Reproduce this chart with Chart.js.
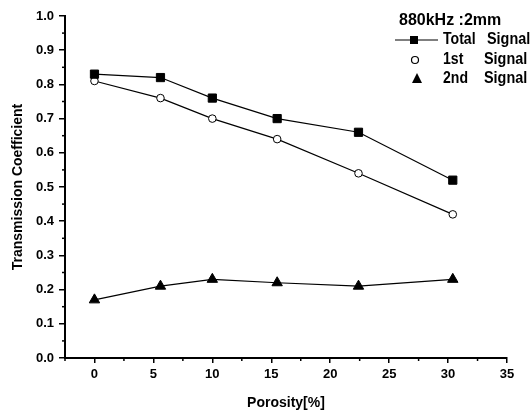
<!DOCTYPE html>
<html>
<head>
<meta charset="utf-8">
<script src="https://cdn.jsdelivr.net/npm/chart.js@4/dist/chart.umd.min.js"></script>
<style>
html,body{margin:0;padding:0;background:#fff;}
#wrap{width:530px;height:412px;}
</style>
</head>
<body>
<div id="wrap"><canvas id="c" width="530" height="412"></canvas></div>
<script>
const porosity = [0, 5.6, 10, 15.5, 22.4, 30.4];
const totalSignal = [0.83, 0.82, 0.76, 0.70, 0.66, 0.52];
const firstSignal = [0.81, 0.76, 0.70, 0.64, 0.54, 0.42];
const secondSignal = [0.17, 0.21, 0.23, 0.22, 0.21, 0.23];
const xTicks = [0, 5, 10, 15, 20, 25, 30, 35];
const yTicks = [0, 0.1, 0.2, 0.3, 0.4, 0.5, 0.6, 0.7, 0.8, 0.9, 1.0];
const legendTitle = '880kHz :2mm';
const legendNames = [['Total', 'Signal'], ['1st', 'Signal'], ['2nd', 'Signal']];

const FONT = '"Liberation Sans", Arial, sans-serif';

function pts(ys){ return porosity.map((x,i)=>({x:x,y:ys[i]})); }

const minorTicks = {
  id:'minorTicks',
  afterDraw(chart){
    const ctx = chart.ctx;
    const xs = chart.scales.x, ys = chart.scales.y;
    ctx.save();
    ctx.strokeStyle = '#000';
    ctx.lineWidth = 1.5;
    for (let v = -2.5; v <= 35.001; v += 5) {
      const px = xs.getPixelForValue(v);
      ctx.beginPath(); ctx.moveTo(px, ys.bottom); ctx.lineTo(px, ys.bottom + 3); ctx.stroke();
    }
    for (let v = 0.05; v < 1; v += 0.1) {
      const py = ys.getPixelForValue(v);
      ctx.beginPath(); ctx.moveTo(xs.left, py); ctx.lineTo(xs.left - 3, py); ctx.stroke();
    }
    ctx.restore();
  }
};

const customLegend = {
  id:'customLegend',
  afterDraw(chart){
    const ctx = chart.ctx;
    ctx.save();
    ctx.fillStyle = '#000';
    ctx.textBaseline = 'middle';
    ctx.font = 'bold 16px ' + FONT;
    ctx.fillText(legendTitle, 399, 21);
    const rows = [40, 60, 79];
    const sigX = [487, 484, 484];
    rows.forEach((y, i) => {
      ctx.save();
      ctx.translate(443, y);
      ctx.scale(0.88, 1);
      ctx.fillText(legendNames[i][0], 0, 0);
      ctx.restore();
      ctx.save();
      ctx.translate(sigX[i], y);
      ctx.scale(0.9, 1);
      ctx.fillText(legendNames[i][1], 0, 0);
      ctx.restore();
    });
    // symbols
    ctx.strokeStyle = '#000';
    ctx.lineWidth = 1.2;
    ctx.beginPath(); ctx.moveTo(395, 40); ctx.lineTo(438, 40); ctx.stroke();
    ctx.fillRect(410, 36, 8, 8);
    ctx.beginPath(); ctx.arc(415, 60, 3.5, 0, Math.PI*2);
    ctx.fillStyle = '#fff'; ctx.fill(); ctx.stroke();
    ctx.fillStyle = '#000';
    ctx.beginPath(); ctx.moveTo(417, 73); ctx.lineTo(422, 83); ctx.lineTo(412, 83); ctx.closePath(); ctx.fill();
    ctx.restore();
  }
};

const common = {borderColor:'#000', borderWidth:1.2, pointBorderColor:'#000', pointBorderWidth:1, tension:0, showLine:true};

new Chart(document.getElementById('c'), {
  type:'scatter',
  data:{
    datasets:[
      Object.assign({label:'Total Signal', data:pts(totalSignal), pointStyle:'rect', pointRadius:5.8, pointBackgroundColor:'#000'}, common),
      Object.assign({label:'1st Signal', data:pts(firstSignal), pointStyle:'circle', pointRadius:3.8, pointBackgroundColor:'#fff'}, common),
      Object.assign({label:'2nd Signal', data:pts(secondSignal), pointStyle:'triangle', pointRadius:6, pointBackgroundColor:'#000'}, common)
    ]
  },
  options:{
    responsive:false,
    animation:false,
    layout:{padding:{top:16, right:23, left:0, bottom:0}},
    plugins:{legend:{display:false}, tooltip:{enabled:false}},
    scales:{
      x:{
        type:'linear', min:-2.5, max:35,
        afterBuildTicks(s){ s.ticks = xTicks.map(v=>({value:v})); },
        afterFit(s){ s.height = 54; },
        grid:{drawOnChartArea:false, drawTicks:true, tickLength:5, color:'#000', lineWidth:1.5},
        border:{display:true, color:'#000', width:2},
        ticks:{color:'#000', font:{family:FONT, size:13, weight:'bold'}, padding:4, maxRotation:0, callback:v=>String(v)},
        title:{display:true, text:'Porosity[%]', color:'#000', font:{family:FONT, size:14, weight:'bold'}, padding:{top:8, bottom:0}}
      },
      y:{
        min:0, max:1,
        afterBuildTicks(s){ s.ticks = yTicks.map(v=>({value:v})); },
        afterFit(s){ s.width = 65; },
        grid:{drawOnChartArea:false, drawTicks:true, tickLength:6, color:'#000', lineWidth:1.5},
        border:{display:true, color:'#000', width:2},
        ticks:{color:'#000', font:{family:FONT, size:13, weight:'bold'}, padding:5, callback:v=>v.toFixed(1)},
        title:{display:true, text:'Transmission Coefficient', color:'#000', font:{family:FONT, size:14, weight:'bold'}, padding:{top:10, bottom:0}}
      }
    }
  },
  plugins:[minorTicks, customLegend]
});
</script>
</body>
</html>
